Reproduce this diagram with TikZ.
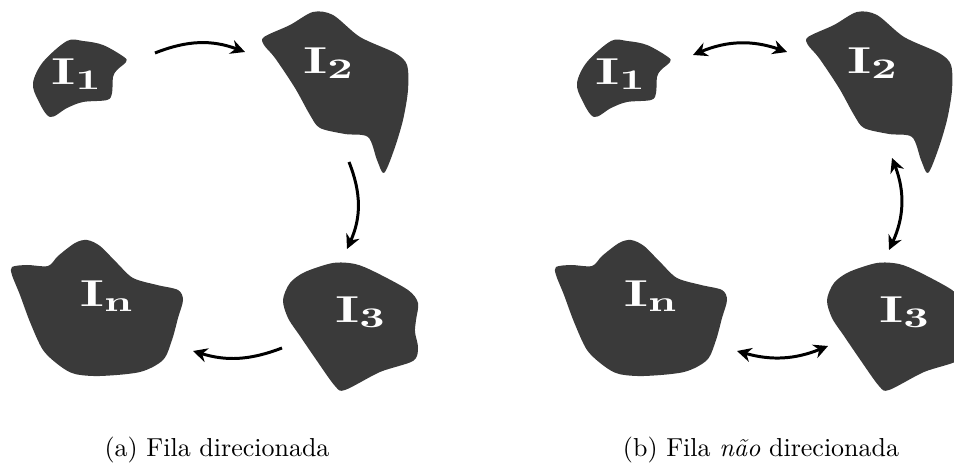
\documentclass[tikz,border=0pt]{standalone}
\usepackage{graphicx}
\usetikzlibrary{arrows.meta}
\definecolor{islandgray}{RGB}{58,58,58}
\newcommand{\islandname}[1]{\scalebox{1.55}[1]{$\mathbf{I_{#1}}$}}
\tikzset{
  island/.style={fill=islandgray},
  islandlabel/.style={text=white,inner sep=0pt,font=\fontsize{15}{18}\selectfont},
  conn/.style={line width=1.15pt,arrows={-Stealth[length=5.5pt,width=5.5pt,inset=1.8pt]}},
  bothconn/.style={line width=1.15pt,arrows={Stealth[length=5.5pt,width=5.5pt,inset=1.8pt]-Stealth[length=5.5pt,width=5.5pt,inset=1.8pt]}},
  caption/.style={anchor=base,font=\fontsize{10}{12}\selectfont},
  pics/islandone/.style={code={
    \fill[island] plot[smooth cycle,tension=0.55] coordinates{
      (67,41) (83,41) (103,45) (124,57) (126,62) (117,70) (113,77)
      (112,93) (107,100) (83,102) (67,108) (50,117) (38,100) (33,83) (43,62)};
  }},
  pics/islandtwo/.style={code={
    \fill[island] plot[smooth cycle,tension=0.5] coordinates{
      (264,37) (290,25) (313,12) (333,15) (360,37) (395,53) (407,65)
      (408,90) (403,120) (394,150) (384,173) (377,160) (368,137)
      (345,134) (320,128) (310,115) (295,88) (275,58) (264,45)};
  }},
  pics/islandthree/.style={code={
    \fill[island] plot[smooth cycle,tension=0.5] coordinates{
      (283,300) (290,283) (305,272) (333,263) (355,264) (375,272)
      (408,290) (418,303) (416,320) (415,332) (418,348) (413,361)
      (380,372) (345,390) (335,386) (315,358) (300,336) (288,318)};
  }},
  pics/islandn/.style={code={
    \fill[island] plot[smooth cycle,tension=0.5] coordinates{
      (12,267) (27,265) (48,266) (58,256) (75,243) (87,240) (100,246)
      (117,263) (133,278) (157,285) (178,290) (183,300) (178,318)
      (172,340) (163,360) (140,372) (100,376) (75,374) (60,366)
      (43,350) (30,322) (20,295) (12,275)};
  }},
}
\begin{document}
\begin{tikzpicture}[x=0.385pt,y=-0.385pt]
\useasboundingbox (0,0) rectangle (954,468);
\clip (0,0) rectangle (954,468);

% ---- (a) directed queue ----
\pic at (0,0) {islandone};
\pic at (0,0) {islandtwo};
\pic at (0,0) {islandthree};
\pic at (0,0) {islandn};
\node[islandlabel] (a1) at (77,74) {\islandname{1}};
\node[islandlabel] (a2) at (329,63) {\islandname{2}};
\node[islandlabel] (a3) at (361,312) {\islandname{3}};
\node[islandlabel] (an) at (107,296) {\islandname{n}};

\coordinate (a12s) at (155,53);
\coordinate (a12e) at (245,52);
\coordinate (a23s) at (349,162);
\coordinate (a23e) at (347,249);
\coordinate (a3ns) at (282,348);
\coordinate (a3ne) at (193,351);
\draw[conn] (a12s) to[bend left=21] (a12e);
\draw[conn] (a23s) to[bend left=23] (a23e);
\draw[conn] (a3ns) to[bend left=19] (a3ne);

\node[caption] (capa) at (217,457) {(a) Fila direcionada};

% ---- (b) undirected queue ----
\begin{scope}[xshift=544*0.385pt]
\pic at (0,0) {islandone};
\pic at (0,0) {islandtwo};
\pic at (0,0) {islandthree};
\pic at (0,0) {islandn};
\end{scope}
\node[islandlabel] (b1) at (621,74) {\islandname{1}};
\node[islandlabel] (b2) at (873,63) {\islandname{2}};
\node[islandlabel] (b3) at (905,312) {\islandname{3}};
\node[islandlabel] (bn) at (651,296) {\islandname{n}};

\coordinate (b12s) at (693,55);
\coordinate (b12e) at (787,52);
\coordinate (b23s) at (892,158);
\coordinate (b23e) at (889,250);
\coordinate (bn3s) at (737,351);
\coordinate (bn3e) at (828,346);
\draw[bothconn] (b12s) to[bend left=21] (b12e);
\draw[bothconn] (b23s) to[bend left=23] (b23e);
\draw[bothconn] (bn3s) to[bend right=19] (bn3e);

\node[caption] (capb) at (761,457) {(b) Fila \textit{não} direcionada};
\end{tikzpicture}
\end{document}
